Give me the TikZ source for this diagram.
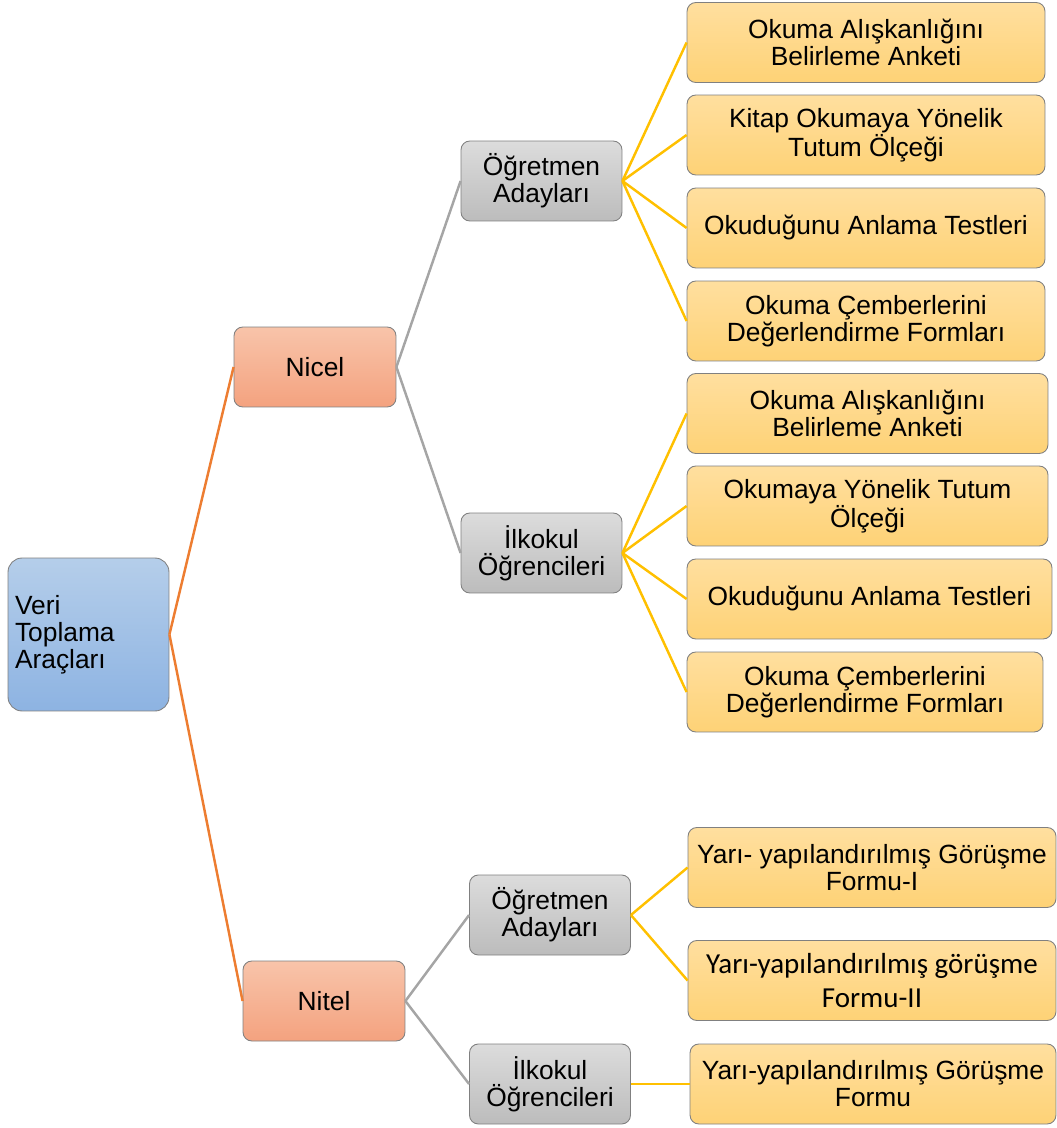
\documentclass[tikz,border=0pt]{standalone}
\usepackage{fontspec}
\setmainfont{Liberation Sans}
\newfontfamily\calibrifont{Carlito}
\definecolor{kok1}{HTML}{B5CEEA}
\definecolor{kok2}{HTML}{8DB3E2}
\definecolor{tur1}{HTML}{F8C4AA}
\definecolor{tur2}{HTML}{F4A27F}
\definecolor{gri1}{HTML}{DCDCDC}
\definecolor{gri2}{HTML}{BCBCBC}
\definecolor{sari1}{HTML}{FFDF9F}
\definecolor{sari2}{HTML}{FED276}
\definecolor{cizturuncu}{HTML}{ED7D31}
\definecolor{cizgri}{HTML}{A5A5A5}
\definecolor{cizsari}{HTML}{FFC000}
\begin{document}
\begin{tikzpicture}[
  x=0.02cm, y=-0.02cm,
  kutu/.style={draw=black!50, line width=0.5pt, rounded corners=5pt, inner sep=0pt,
    align=center, font=\fontsize{15}{15.4}\selectfont},
  kok/.style={kutu, top color=kok1, bottom color=kok2, rounded corners=8pt,
    minimum width=3.22cm, minimum height=3.06cm, align=left,
    text width=2.94cm, inner xsep=0.14cm},
  tur/.style={kutu, top color=tur1, bottom color=tur2, minimum width=3.24cm, minimum height=1.6cm},
  grup/.style={kutu, top color=gri1, bottom color=gri2, minimum width=3.22cm, minimum height=1.6cm},
  arac/.style={kutu, top color=sari1, bottom color=sari2, minimum width=7.16cm, minimum height=1.6cm},
  line width=1.4pt
]
  \useasboundingbox (0,0) rectangle (1056,1128);

  % Kok ve turler
  \node[kok] (veri) at (88.5,634.5) {Veri\\Toplama\\Araçları};
  \node[tur] (nicel) at (315,367) {Nicel};
  \node[tur] (nitel) at (324,1001) {Nitel};
  \draw[cizturuncu] (veri.east) -- (nicel.west);
  \draw[cizturuncu] (veri.east) -- (nitel.west);

  % Nicel
  \node[grup] (oa1) at (541.5,181) {Öğretmen\\Adayları};
  \node[grup] (io1) at (541.5,553) {İlkokul\\Öğrencileri};
  \draw[cizgri] (nicel.east) -- (oa1.west);
  \draw[cizgri] (nicel.east) -- (io1.west);

  \node[arac] (a1) at (866,42.5) {Okuma Alışkanlığını\\Belirleme Anketi};
  \node[arac] (a2) at (866,135) {Kitap Okumaya Yönelik\\Tutum Ölçeği};
  \node[arac] (a3) at (866,228) {Okuduğunu Anlama Testleri};
  \node[arac] (a4) at (866,321) {Okuma Çemberlerini\\Değerlendirme Formları};
  \foreach \k in {a1,a2,a3,a4}
    \draw[cizsari] (oa1.east) -- (\k.west);

  \node[arac, minimum width=7.22cm] (b1) at (867.5,413.5) {Okuma Alışkanlığını\\Belirleme Anketi};
  \node[arac, minimum width=7.22cm] (b2) at (867.5,506) {Okumaya Yönelik Tutum\\Ölçeği};
  \node[arac, minimum width=7.30cm] (b3) at (869.5,599) {Okuduğunu Anlama Testleri};
  \node[arac, minimum width=7.12cm] (b4) at (865,692) {Okuma Çemberlerini\\Değerlendirme Formları};
  \foreach \k in {b1,b2,b3,b4}
    \draw[cizsari] (io1.east) -- (\k.west);

  % Nitel
  \node[grup] (oa2) at (550,915) {Öğretmen\\Adayları};
  \node[grup] (io2) at (550,1084) {İlkokul\\Öğrencileri};
  \draw[cizgri] (nitel.east) -- (oa2.west);
  \draw[cizgri] (nitel.east) -- (io2.west);

  \node[arac, minimum width=7.36cm] (c1) at (872,867.5) {Yarı- yapılandırılmış Görüşme\\Formu-I};
  \node[arac, minimum width=7.36cm, font=\calibrifont\fontsize{16.5}{19}\selectfont] (c2) at (872,980.5) {Yarı-yapılandırılmış görüşme\\Formu-II};
  \node[arac, minimum width=7.32cm] (c3) at (873,1084) {Yarı-yapılandırılmış Görüşme\\Formu};
  \draw[cizsari] (oa2.east) -- (c1.west);
  \draw[cizsari] (oa2.east) -- (c2.west);
  \draw[cizsari] (io2.east) -- (c3.west);
\end{tikzpicture}
\end{document}
